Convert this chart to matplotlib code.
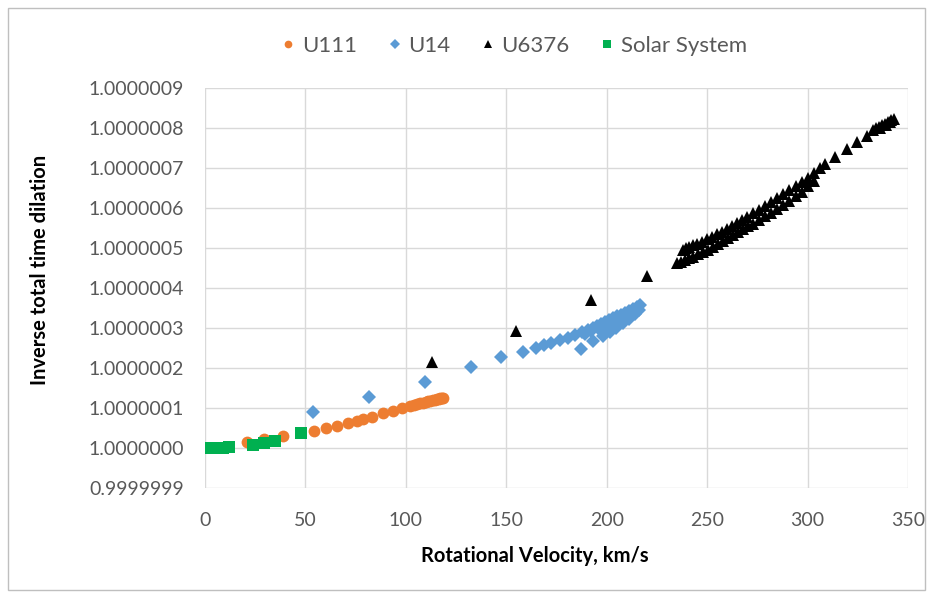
import numpy as np
import matplotlib
matplotlib.use("Agg")
from matplotlib import pyplot as plt
from matplotlib.patches import Rectangle

plt.rcParams['font.family'] = ['Lato', 'DejaVu Sans']

# velocities in km/s, dilation excess in units of 1e-7 (y = 1 + d*1e-7)
u111_v = [20.9, 29.4, 38.8, 54.3, 60.2, 65.7, 71.2, 75.7, 78.6, 83.1, 88.6, 93.6,
          98.1, 102.0, 104.0, 105.5, 107.0, 108.5, 110.0, 111.0, 112.0, 113.5,
          114.5, 115.5, 116.5, 117.0, 118.0, 118.5]
u111_d = [0.15, 0.22, 0.30, 0.43, 0.50, 0.55, 0.62, 0.68, 0.72, 0.78, 0.87, 0.93,
          1.00, 1.05, 1.08, 1.10, 1.13, 1.13, 1.15, 1.17, 1.18, 1.20,
          1.21, 1.22, 1.23, 1.24, 1.25, 1.26]

u14_v = [53.8, 81.6, 109.5, 132.4, 147.3, 158.1, 165.0, 169.0, 172.5, 176.5, 180.5,
         184.0, 187.5, 190.5, 193.0, 195.0, 197.0, 199.0, 201.0, 203.0, 205.0,
         207.0, 209.0, 211.0, 213.0, 215.0, 216.5,
         189.0, 192.0, 195.5, 199.0, 202.5, 206.0, 209.5, 213.0,
         187.2, 193.0, 198.3, 201.5, 204.5, 208.0, 211.0, 214.0, 216.0]
u14_d = [0.91, 1.28, 1.66, 2.02, 2.28, 2.41, 2.51, 2.58, 2.63, 2.69, 2.75,
         2.82, 2.89, 2.95, 3.01, 3.06, 3.10, 3.15, 3.19, 3.24, 3.29,
         3.33, 3.38, 3.43, 3.48, 3.53, 3.58,
         2.85, 2.93, 3.00, 3.08, 3.17, 3.26, 3.34, 3.42,
         2.48, 2.68, 2.80, 2.90, 3.00, 3.12, 3.23, 3.35, 3.45]

u6376_v = [113.0, 154.8, 192.0, 219.9,
           235.0, 237.0, 239.0, 241.0, 243.0, 245.5, 248.0, 250.5, 253.0, 255.5,
           258.0, 260.5, 263.0, 265.5, 268.0, 270.5, 273.0, 276.0, 279.0, 282.0,
           285.0, 288.0, 291.0, 294.0, 297.0, 300.0, 303.0,
           238.0, 239.5, 241.0, 243.0, 245.0, 247.5, 250.0, 252.5, 255.0, 257.5,
           260.0, 262.5, 265.0, 267.5, 270.0, 273.0, 276.0, 279.0, 282.0, 285.0,
           288.0, 291.0, 294.0, 297.0, 300.0, 303.0,
           306.0, 308.6, 313.6, 319.4, 324.7, 329.4,
           332.5, 334.0, 335.5, 336.0, 337.0, 338.5, 339.0, 340.0, 341.0, 341.5, 343.0]
u6376_d = [2.14, 2.93, 3.69, 4.30,
           4.62, 4.66, 4.70, 4.74, 4.78, 4.84, 4.90, 4.96, 5.03, 5.10,
           5.17, 5.24, 5.32, 5.40, 5.47, 5.54, 5.61, 5.70, 5.79, 5.88,
           5.98, 6.08, 6.18, 6.29, 6.41, 6.54, 6.68,
           4.96, 5.00, 5.03, 5.07, 5.11, 5.16, 5.22, 5.28, 5.34, 5.41,
           5.48, 5.55, 5.62, 5.70, 5.78, 5.87, 5.96, 6.05, 6.14, 6.24,
           6.34, 6.44, 6.54, 6.65, 6.76, 6.88,
           7.00, 7.09, 7.28, 7.48, 7.66, 7.81,
           7.95, 7.99, 8.03, 8.00, 8.07, 8.11, 8.08, 8.15, 8.14, 8.19, 8.23]

solar_v = [3.0, 6.0, 9.0, 12.0, 24.0, 29.4, 35.0, 47.8]
solar_d = [0.0, 0.0, 0.0, 0.02, 0.08, 0.12, 0.18, 0.37]

fig = plt.figure(figsize=(9.33, 5.92), dpi=100)
ax = fig.add_axes([205/933, 1 - 488/592, 703/933, 400/592])

def to_y(d):
    return 1 + np.array(d) * 1e-7

ax.plot(u111_v, to_y(u111_d), 'o', color='#ED7D31', ms=8.5, mew=0, label='U111')
ax.plot(u14_v, to_y(u14_d), 'D', color='#5B9BD5', ms=7.2, mew=0, label='U14')
ax.plot(u6376_v, to_y(u6376_d), '^', color='black', ms=9, mew=0, label='U6376')
ax.plot(solar_v, to_y(solar_d), 's', color='#00B050', ms=8, mew=0, label='Solar System')

ax.set_xlim(0, 350)
ax.set_xticks(range(0, 351, 50))
yt = [1 + k * 1e-7 for k in range(-1, 10)]
ax.set_yticks(yt)
ax.set_yticklabels(['%.7f' % v for v in yt])
ax.set_ylim(yt[0], yt[-1])
ax.grid(True, color='#d9d9d9', lw=1)
ax.set_axisbelow(True)
for s in ax.spines.values():
    s.set_visible(False)
ax.tick_params(length=0, labelsize=14, colors='#595959')
ax.tick_params(axis='y', pad=15)
ax.tick_params(axis='x', pad=17)

fig.text(535/933, 1 - 556/592, 'Rotational Velocity, km/s', ha='center', va='center',
         fontsize=14.5, fontweight='bold', color='black')
fig.text(40/933, 1 - 270/592, 'Inverse total time dilation', ha='center', va='center',
         rotation=90, fontsize=14.5, fontweight='bold', color='black')

fig.legend(loc='center', bbox_to_anchor=(512/933, 1 - 46/592), ncol=4, frameon=False,
           fontsize=16, labelcolor='#595959', handletextpad=0.1, columnspacing=1.2,
           handlelength=1.0, markerscale=0.65)

fig.patches.append(Rectangle((8/933, 2/592), 917/933, 582/592, transform=fig.transFigure,
                             fill=False, edgecolor='#bfbfbf', lw=1))

fig.savefig('out.png', dpi=100)
